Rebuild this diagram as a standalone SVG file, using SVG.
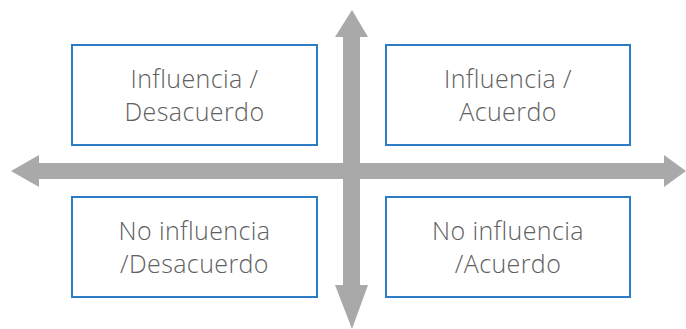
<svg xmlns="http://www.w3.org/2000/svg" width="686" height="329" viewBox="0 0 686 329">
<style>
.box{fill:#fff;stroke:#2b7bc5;stroke-width:2}
.lbl{font-family:"Open Sans","Noto Sans","Liberation Sans",sans-serif;font-size:25px;fill:#606060;text-anchor:middle;font-weight:300;letter-spacing:0.4px}
.ax{fill:#a9a9a9}
</style>
<rect width="686" height="329" fill="#fff"/>
<g id="connectors">
<polygon class="ax" points="11,171 39,155 39,163 664,163 664,155 686,171 664,187 664,179 39,179 39,187"/>
<polygon class="ax" points="352,10 368,37 360,37 360,285 368,285 352,329 335,285 343,285 343,37 335,37"/>
</g>
<g id="n1">
<rect class="box" x="72" y="45" width="245" height="100"/>
<text class="lbl" x="194.5" y="88">Influencia /</text>
<text class="lbl" x="194.5" y="121">Desacuerdo</text>
</g>
<g id="n2">
<rect class="box" x="386" y="45" width="244" height="100"/>
<text class="lbl" x="508" y="88">Influencia /</text>
<text class="lbl" x="508" y="121">Acuerdo</text>
</g>
<g id="n3">
<rect class="box" x="72" y="197" width="245" height="100"/>
<text class="lbl" x="194.5" y="240">No influencia</text>
<text class="lbl" x="194.5" y="273">/Desacuerdo</text>
</g>
<g id="n4">
<rect class="box" x="386" y="197" width="244" height="100"/>
<text class="lbl" x="508" y="240">No influencia</text>
<text class="lbl" x="508" y="273">/Acuerdo</text>
</g>
</svg>
